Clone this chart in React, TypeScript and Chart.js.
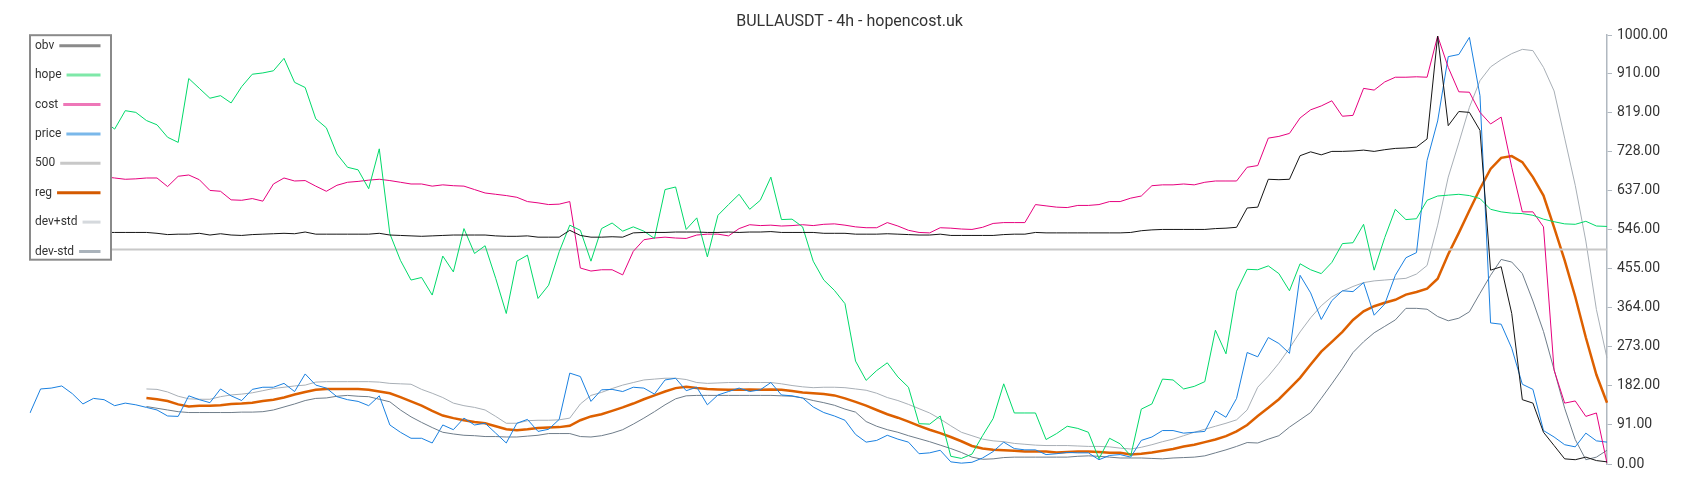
import React, { useEffect, useRef } from "react";
import { Chart, registerables } from "chart.js";

Chart.register(...registerables);

const TITLE = "BULLAUSDT - 4h - hopencost.uk";

const SERIES_NAMES = ["obv", "hope", "cost", "price", "500", "reg", "dev+std", "dev-std"];

const Y_TICKS = [0, 91, 182, 273, 364, 455, 546, 637, 728, 819, 910, 1000];

const obv = [
  540, 541, 539, 540, 538, 539, 540, 540, 540, 540,
  540, 540, 538, 535, 536, 536, 538, 534, 537, 534,
  533, 535, 536, 537, 538, 537, 541, 536, 536, 536,
  536, 536, 536, 538, 534, 533, 532, 531, 532, 533,
  534, 534, 534, 534, 532, 531, 531, 532, 529, 529,
  529, 545, 533, 529, 529, 530, 529, 539, 540, 540,
  540, 541, 541, 541, 540, 540, 541, 540, 541, 541,
  542, 540, 540, 540, 540, 538, 538, 538, 536, 536,
  536, 537, 536, 535, 534, 534, 536, 533, 533, 533,
  533, 533, 535, 536, 536, 540, 539, 539, 539, 539,
  539, 539, 539, 539, 540, 544, 546, 547, 547, 547,
  547, 547, 549, 550, 552, 597, 599, 664, 663, 664,
  719, 728, 721, 729, 729, 730, 732, 729, 733, 736,
  737, 739, 758, 998, 789, 822, 820, 778, 452, 460,
  351, 150, 142, 74, 43, 12, 10, 16, 8, 5,
];

const hope = [
  843, 830, 815, 800, 810, 795, 805, 800, 781, 824,
  820, 801, 791, 762, 750, 899, 876, 853, 859, 842,
  880, 909, 912, 917, 946, 890, 878, 805, 784, 723,
  692, 686, 642, 735, 537, 475, 429, 435, 394, 485,
  448, 549, 491, 509, 433, 351, 473, 487, 386, 417,
  495, 557, 545, 473, 549, 562, 543, 553, 543, 526,
  640, 646, 547, 574, 483, 580, 605, 629, 594, 615,
  669, 570, 571, 553, 473, 429, 405, 374, 240, 195,
  218, 236, 203, 179, 94, 93, 112, 18, 13, 23,
  66, 106, 187, 119, 119, 119, 57, 71, 88, 83,
  74, 12, 60, 47, 19, 128, 140, 198, 196, 175,
  181, 192, 312, 257, 403, 454, 453, 462, 444, 404,
  467, 453, 444, 470, 514, 516, 559, 452, 528, 594,
  570, 572, 615, 625, 627, 629, 626, 619, 594, 588,
  585, 584, 580, 571, 565, 560, 559, 566, 555, 554,
];

const cost = [
  672, 668, 665, 667, 670, 666, 668, 670, 667, 664,
  665, 667, 667, 647, 671, 674, 663, 638, 636, 616,
  615, 619, 613, 653, 667, 660, 661, 648, 636, 650,
  657, 659, 662, 664, 661, 657, 653, 653, 648, 651,
  649, 648, 640, 632, 629, 626, 622, 612, 609, 605,
  606, 612, 457, 450, 453, 453, 441, 496, 523, 527,
  529, 527, 526, 534, 536, 536, 532, 549, 558, 556,
  557, 555, 556, 558, 556, 559, 560, 557, 553, 551,
  551, 563, 555, 545, 540, 539, 551, 550, 548, 547,
  552, 561, 563, 563, 563, 605, 602, 599, 598, 603,
  603, 605, 612, 612, 620, 625, 649, 651, 651, 653,
  651, 657, 660, 660, 660, 692, 696, 760, 764, 771,
  807, 826, 835, 847, 811, 813, 876, 872, 891, 902,
  902, 903, 902, 998, 925, 868, 867, 820, 793, 809,
  692, 588, 588, 553, 219, 142, 147, 111, 119, 2,
];

const price = [
  119, 175, 177, 182, 164, 140, 153, 150, 136, 142,
  138, 132, 126, 112, 111, 159, 150, 143, 175, 159,
  148, 174, 179, 179, 188, 169, 210, 184, 177, 157,
  150, 146, 136, 159, 91, 74, 60, 60, 49, 91,
  80, 107, 91, 95, 72, 49, 95, 104, 76, 81,
  104, 212, 204, 146, 173, 174, 169, 179, 177, 163,
  196, 200, 171, 179, 138, 161, 169, 177, 169, 173,
  190, 161, 159, 154, 133, 120, 112, 102, 69, 51,
  55, 67, 58, 51, 24, 26, 32, 5, 2, 4,
  14, 29, 51, 36, 33, 33, 22, 24, 27, 26,
  26, 10, 20, 22, 16, 55, 63, 78, 78, 72,
  74, 76, 124, 109, 153, 260, 250, 295, 281, 258,
  440, 399, 337, 381, 404, 402, 423, 347, 373, 440,
  481, 493, 708, 800, 950, 955, 995, 859, 329, 326,
  270, 186, 174, 78, 63, 45, 40, 72, 54, 51,
];

const level500 = price.map(() => 500);

const reg = [
  null, null, null, null, null, null, null, null, null, null,
  null, 154, 151, 147, 139, 134, 136, 136, 137, 140,
  141, 143, 147, 150, 155, 162, 168, 173, 175, 175,
  175, 175, 173, 169, 165, 156, 146, 136, 124, 113,
  107, 102, 98, 95, 88, 81, 79, 81, 84, 85,
  86, 89, 102, 111, 116, 124, 132, 141, 151, 160,
  169, 177, 180, 177, 175, 174, 173, 173, 174, 173,
  174, 173, 170, 167, 165, 163, 160, 153, 145, 136,
  126, 116, 108, 99, 89, 80, 72, 63, 53, 42,
  36, 33, 32, 31, 29, 29, 29, 27, 28, 29,
  29, 28, 26, 26, 22, 24, 27, 31, 35, 41,
  45, 51, 57, 65, 76, 91, 112, 131, 151, 176,
  201, 232, 262, 285, 308, 336, 356, 368, 376, 383,
  395, 401, 409, 432, 489, 539, 591, 642, 688, 714,
  718, 704, 669, 626, 552, 475, 390, 295, 208, 143,
];

const devPlus = [
  null, null, null, null, null, null, null, null, null, null,
  null, 175, 174, 168, 158, 152, 151, 151, 157, 161,
  163, 166, 171, 176, 179, 182, 184, 191, 192, 192,
  192, 192, 192, 191, 188, 187, 186, 174, 165, 155,
  142, 136, 132, 126, 111, 95, 95, 101, 102, 102,
  103, 107, 140, 160, 167, 176, 184, 190, 196, 198,
  200, 200, 197, 190, 188, 189, 190, 190, 190, 190,
  190, 187, 183, 180, 178, 179, 179, 178, 175, 172,
  165, 155, 148, 139, 129, 119, 105, 89, 74, 66,
  58, 54, 52, 48, 46, 44, 43, 43, 43, 42,
  41, 41, 40, 37, 35, 39, 45, 52, 58, 66,
  74, 81, 88, 95, 103, 126, 179, 205, 235, 270,
  308, 341, 369, 390, 403, 414, 423, 427, 429, 431,
  433, 443, 463, 557, 669, 749, 832, 894, 926, 943,
  957, 967, 964, 925, 870, 760, 650, 520, 360, 247,
];

const devMinus = [
  null, null, null, null, null, null, null, null, null, null,
  null, 134, 130, 126, 122, 120, 120, 120, 120, 120,
  121, 121, 122, 126, 133, 140, 148, 153, 154, 158,
  160, 158, 157, 151, 145, 126, 110, 97, 85, 74,
  70, 67, 66, 64, 64, 63, 63, 65, 67, 71,
  71, 71, 64, 63, 66, 72, 80, 93, 107, 122,
  138, 152, 159, 160, 160, 160, 160, 160, 160, 160,
  160, 159, 158, 154, 148, 143, 137, 128, 121, 99,
  88, 80, 74, 66, 59, 52, 44, 36, 27, 16,
  11, 12, 15, 16, 16, 16, 16, 16, 16, 18,
  19, 18, 16, 14, 14, 14, 13, 12, 14, 15,
  16, 19, 26, 33, 41, 50, 49, 58, 66, 86,
  103, 120, 153, 187, 222, 260, 285, 306, 321, 336,
  363, 363, 361, 344, 334, 340, 355, 398, 440, 477,
  471, 444, 380, 309, 220, 130, 57, 10, 16, 32,
];

const categories = price.map((_, i) => String(i));

const LINE_COLORS = ["#151515", "#00d96a", "#e6007e", "#1a80e0", "#c8c8c8", "#dd6000", "#a8afb6", "#6f7d8a"];
const LINE_WIDTHS = [1, 1, 1, 1, 2, 2.5, 1, 1];
const LEGEND_COLORS = ["#8a8a8a", "#7ee8a8", "#ee77b8", "#7ab8ea", "#c8c8c8", "#d45a00", "#d5d9dd", "#aab3bb"];

const boxLegend = {
  id: "boxLegend",
  afterDraw(chart: any) {
    const ctx = chart.ctx as CanvasRenderingContext2D;
    const { left, top } = chart.chartArea;
    const w = 81;
    const h = 224.5;
    ctx.save();
    ctx.fillStyle = "#ffffff";
    ctx.fillRect(left, top, w, h);
    ctx.strokeStyle = "#8a8a8a";
    ctx.lineWidth = 2;
    ctx.strokeRect(left, top, w, h);
    ctx.font = "12px Roboto";
    ctx.textBaseline = "middle";
    ctx.textAlign = "left";
    SERIES_NAMES.forEach((name, k) => {
      const y = top + 10.5 + k * 29.4;
      ctx.fillStyle = "#333333";
      ctx.fillText(name, left + 5, y);
      const tw = ctx.measureText(name).width;
      ctx.strokeStyle = LEGEND_COLORS[k];
      ctx.lineWidth = 3;
      ctx.beginPath();
      ctx.moveTo(left + 5 + tw + 5, y);
      ctx.lineTo(left + 70.5, y);
      ctx.stroke();
    });
    ctx.restore();
  },
};

export default function App() {
  const ref = useRef<HTMLCanvasElement>(null);
  useEffect(() => {
    document.body.style.margin = "0";
    Chart.defaults.font.family = "Roboto";
    const seriesData = [obv, hope, cost, price, level500, reg, devPlus, devMinus];
    const chart = new Chart(ref.current as HTMLCanvasElement, {
      type: "line",
      data: {
        labels: categories,
        datasets: SERIES_NAMES.map((name, k) => ({
          label: name,
          data: seriesData[k] as any,
          borderColor: LINE_COLORS[k],
          backgroundColor: LINE_COLORS[k],
          borderWidth: LINE_WIDTHS[k],
          pointRadius: 0,
          tension: 0,
          fill: false,
        })),
      },
      options: {
        responsive: false,
        devicePixelRatio: 1,
        animation: false,
        layout: { padding: { left: 30, right: 31, top: 0, bottom: 36 } },
        plugins: {
          title: {
            display: true,
            text: TITLE,
            color: "#333333",
            font: { family: "Roboto", size: 16, weight: "normal" as any },
            padding: { top: 12, bottom: 4 },
          },
          legend: { display: false },
          tooltip: { enabled: false },
        },
        scales: {
          x: { display: false, offset: false },
          y: {
            position: "right",
            min: 0,
            max: 1000,
            afterBuildTicks: (scale: any) => {
              scale.ticks = Y_TICKS.map((v) => ({ value: v }));
            },
            afterFit: (scale: any) => {
              scale.width = 62;
            },
            grid: { drawOnChartArea: false, drawTicks: true, tickLength: 5, color: "#b0b8c0" },
            border: { display: true, color: "#b0b8c0", width: 1.5 },
            ticks: {
              color: "#333333",
              font: { family: "Roboto", size: 14 },
              padding: 5,
              callback: (v: any) => Number(v).toFixed(2),
            },
          },
        },
      },
      plugins: [boxLegend],
    });
    return () => chart.destroy();
  }, []);
  return (
    <div style={{ width: 1700, height: 500 }}>
      <canvas ref={ref} width={1700} height={500} style={{ display: "block" }} />
    </div>
  );
}
